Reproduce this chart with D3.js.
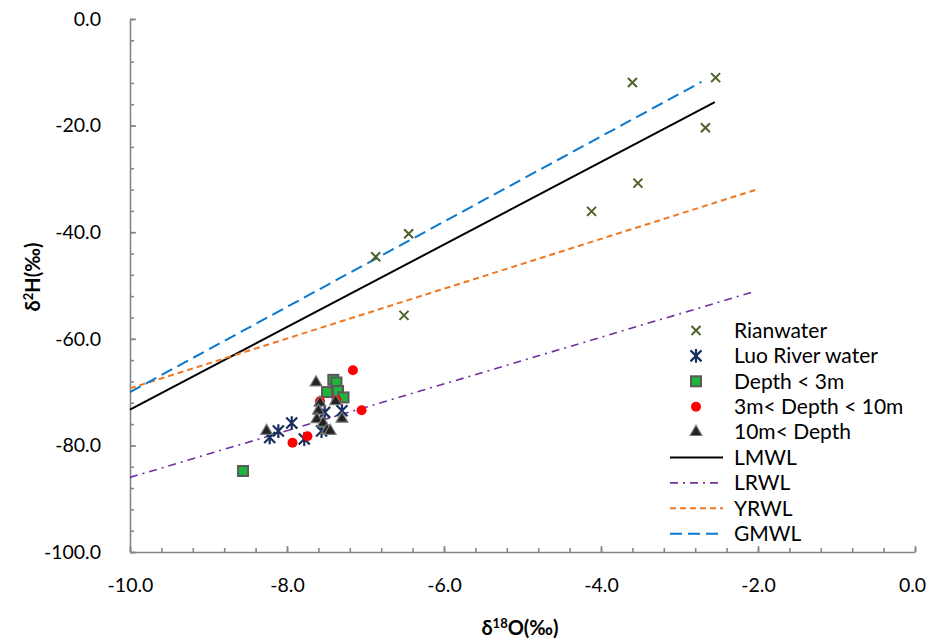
<!DOCTYPE html>
<html>
<head>
<meta charset="utf-8">
<script src="https://cdn.jsdelivr.net/npm/d3@7"></script>
<style>
  body { margin: 0; background: #fff; }
  svg { display: block; font-family: Lato, "Open Sans", sans-serif; }
</style>
</head>
<body>
<div id="chart"></div>
<script>
// Rainwater samples
const rainO = [-3.60, -2.54, -2.67, -3.53, -4.12, -6.45, -6.87, -6.51];
const rainH = [-11.9, -11.0, -20.4, -30.8, -36.1, -40.3, -44.6, -55.6];

// Luo River water
const riverO = [-8.22, -8.11, -7.94, -7.78, -7.52, -7.30, -7.56];
const riverH = [-78.5, -77.3, -75.8, -78.8, -73.8, -73.5, -77.3];

// Groundwater, Depth < 3m
const shallowO = [-7.41, -7.37, -7.49, -7.35, -7.28, -8.56];
const shallowH = [-67.7, -68.2, -70.0, -69.8, -71.0, -84.8];

// Groundwater, 3m < Depth < 10m
const midO = [-7.16, -7.05, -7.74, -7.93, -7.58, -7.37];
const midH = [-65.9, -73.4, -78.3, -79.5, -71.7, -71.5];

// Groundwater, 10m < Depth
const deepO = [-7.63, -8.26, -7.58, -7.60, -7.62, -7.38, -7.30, -7.54, -7.49, -7.45];
const deepH = [-68.2, -77.3, -72.0, -73.5, -75.1, -71.7, -75.0, -75.8, -77.1, -77.3];

// water lines, two end points each
const lmwlO = [-10, -2.55], lmwlH = [-73.3, -15.6];
const lrwlO = [-10, -2.06], lrwlH = [-86.0, -51.2];
const yrwlO = [-10, -2.02], yrwlH = [-69.3, -32.0];
const gmwlO = [-10, -2.72], gmwlH = [-70.0, -11.8];

const xTicks = [-10, -8, -6, -4, -2, 0];
const yTicks = [0, -20, -40, -60, -80, -100];

const width = 927, height = 644;
const x = d3.scaleLinear().domain([-10, 0]).range([130, 915]);
const y = d3.scaleLinear().domain([-100, 0]).range([552, 19]);

const svg = d3.select('#chart').append('svg')
  .attr('width', width)
  .attr('height', height);

const axisColor = '#868686';
const fmt = d => d.toFixed(1);

// minor ticks
svg.append('g')
  .attr('transform', `translate(0,${y(-100)})`)
  .call(d3.axisBottom(x).tickValues(d3.range(-10, 0.01, 0.4)).tickSize(-4).tickFormat(''))
  .call(g => g.select('.domain').remove());
svg.append('g')
  .attr('transform', `translate(${x(-10)},0)`)
  .call(d3.axisLeft(y).tickValues(d3.range(-100, 0.01, 4)).tickSize(-4).tickFormat(''))
  .call(g => g.select('.domain').remove());

// major ticks + labels
svg.append('g')
  .attr('class', 'x-axis')
  .attr('transform', `translate(0,${y(-100)})`)
  .call(d3.axisBottom(x).tickValues(xTicks).tickSize(-6).tickSizeOuter(0).tickPadding(26).tickFormat(fmt));
svg.append('g')
  .attr('transform', `translate(${x(-10)},0)`)
  .call(d3.axisLeft(y).tickValues(yTicks).tickSize(-6).tickSizeOuter(0).tickPadding(29).tickFormat(fmt));

svg.selectAll('.domain, .tick line')
  .attr('stroke', axisColor)
  .attr('stroke-width', 1.6);
svg.selectAll('.tick text')
  .attr('fill', '#000')
  .style('font-family', 'Lato, sans-serif')
  .style('font-size', '19.5px');
// last x label sits right at the edge
svg.selectAll('.x-axis .tick text').filter(d => d === 0).attr('dx', -3);

// axis titles
svg.append('text')
  .attr('x', 520).attr('y', 635)
  .attr('text-anchor', 'middle')
  .style('font-weight', 'bold')
  .style('font-size', '20px')
  .html('δ<tspan dy="-7" font-size="13">18</tspan><tspan dy="7">O(‰)</tspan>');
svg.append('text')
  .attr('transform', 'translate(40,277) rotate(-90)')
  .attr('text-anchor', 'middle')
  .style('font-weight', 'bold')
  .style('font-size', '20px')
  .html('δ<tspan dy="-7" font-size="13">2</tspan><tspan dy="7">H(‰)</tspan>');

// lines
const lines = [
  {name: 'LMWL', xs: lmwlO, ys: lmwlH, color: '#000000', dash: null, w: 2},
  {name: 'LRWL', xs: lrwlO, ys: lrwlH, color: '#7030A0', dash: '8,5,2,5', w: 1.6},
  {name: 'YRWL', xs: yrwlO, ys: yrwlH, color: '#EE7722', dash: '6,4', w: 2},
  {name: 'GMWL', xs: gmwlO, ys: gmwlH, color: '#0A78CC', dash: '12,6', w: 2},
];
const lineGen = d3.line().x(d => x(d[0])).y(d => y(d[1]));
svg.append('g').selectAll('path')
  .data(lines)
  .join('path')
  .attr('d', d => lineGen(d3.zip(d.xs, d.ys)))
  .attr('fill', 'none')
  .attr('stroke', d => d.color)
  .attr('stroke-width', d => d.w)
  .attr('stroke-dasharray', d => d.dash);

// marker shapes
const timesPath = r => `M${-r},${-r}L${r},${r}M${-r},${r}L${r},${-r}`;
const asteriskPath = r => `M${-r},${-r}L${r},${r}M${-r},${r}L${r},${-r}M0,${-r * 1.25}L0,${r * 1.25}`;

const series = [
  {name: 'Rianwater', xs: rainO, ys: rainH,
   draw: s => s.append('path').attr('d', timesPath(4.5)).attr('stroke', '#4F6228').attr('stroke-width', 2).attr('fill', 'none')},
  {name: 'Luo River water', xs: riverO, ys: riverH,
   draw: s => s.append('path').attr('d', asteriskPath(5.5)).attr('stroke', '#17305E').attr('stroke-width', 2.2).attr('fill', 'none')},
  {name: 'Depth < 3m', xs: shallowO, ys: shallowH,
   draw: s => s.append('rect').attr('x', -5).attr('y', -5).attr('width', 10).attr('height', 10)
     .attr('fill', '#1DB53A').attr('stroke', '#5A5A5A').attr('stroke-width', 2)},
  {name: '3m< Depth < 10m', xs: midO, ys: midH,
   draw: s => s.append('circle').attr('r', 5).attr('fill', '#FF0000')},
  {name: '10m< Depth', xs: deepO, ys: deepH,
   draw: s => s.append('path').attr('d', d3.symbol(d3.symbolTriangle, 60)())
     .attr('fill', '#222').attr('stroke', '#7A7A7A').attr('stroke-width', 1.2)},
];

series.forEach(sr => {
  svg.append('g').selectAll('g')
    .data(d3.zip(sr.xs, sr.ys))
    .join('g')
    .attr('transform', d => `translate(${x(d[0])},${y(d[1])})`)
    .each(function() { sr.draw(d3.select(this)); });
});

// legend
const legendTop = 330.5, legendStep = 25.4;
const legend = svg.append('g');
series.forEach((sr, i) => {
  const row = legend.append('g').attr('transform', `translate(0,${legendTop + i * legendStep})`);
  sr.draw(row.append('g').attr('transform', 'translate(696,0)'));
  row.append('text').attr('x', 734).attr('dy', '0.35em').style('font-size', '21px').text(sr.name);
});
lines.forEach((ln, i) => {
  const row = legend.append('g').attr('transform', `translate(0,${legendTop + (i + series.length) * legendStep})`);
  row.append('line').attr('x1', 670).attr('x2', 723)
    .attr('stroke', ln.color).attr('stroke-width', ln.w).attr('stroke-dasharray', ln.dash);
  row.append('text').attr('x', 734).attr('dy', '0.35em').style('font-size', '21px').text(ln.name);
});
</script>
</body>
</html>
